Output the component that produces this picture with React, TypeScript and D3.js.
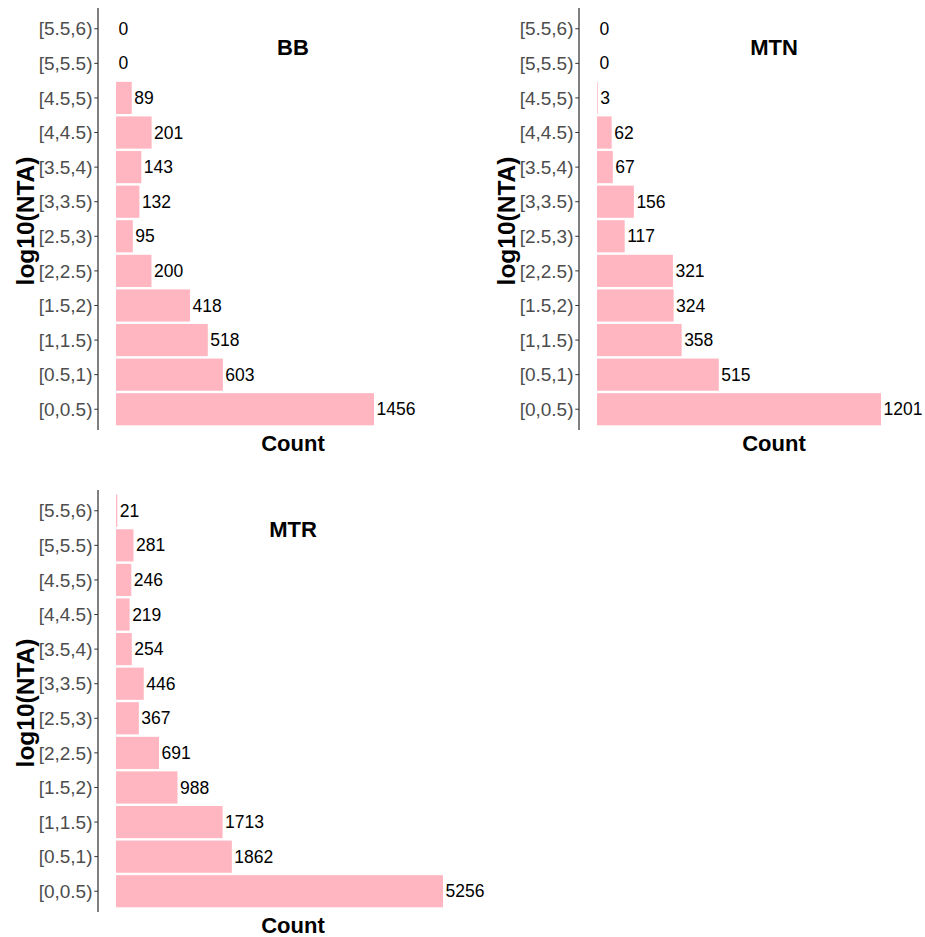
import React from 'react';
import * as d3 from 'd3';

// bins of log10(NTA), listed top to bottom as drawn
const bins = ['[5.5,6)', '[5,5.5)', '[4.5,5)', '[4,4.5)', '[3.5,4)', '[3,3.5)', '[2.5,3)', '[2,2.5)', '[1.5,2)', '[1,1.5)', '[0.5,1)', '[0,0.5)'];

const bbCounts = [0, 0, 89, 201, 143, 132, 95, 200, 418, 518, 603, 1456];
const mtnCounts = [0, 0, 3, 62, 67, 156, 117, 321, 324, 358, 515, 1201];
const mtrCounts = [21, 281, 246, 219, 254, 446, 367, 691, 988, 1713, 1862, 5256];

const FONT = '"Liberation Sans", Arial, Helvetica, sans-serif';
const BAR_FILL = '#FFB6C1';

interface PanelProps {
  title: string;
  counts: number[];
  axisX: number;      // y-axis line position
  x0: number;         // where zero count sits
  xMax: number;       // where the max count ends
  top: number;
  bottom: number;
  yTitleX: number;
  titleX: number;
}

const Panel: React.FC<PanelProps> = ({ title, counts, axisX, x0, xMax, top, bottom, yTitleX, titleX }) => {
  const y = d3.scaleBand<string>()
    .domain(bins)
    .range([top, bottom])
    .paddingInner(0.07)
    .paddingOuter(0.135);

  const x = d3.scaleLinear()
    .domain([0, d3.max(counts) as number])
    .range([x0, xMax]);

  const bw = y.bandwidth();
  const midY = (top + bottom) / 2;

  return (
    <g>
      {counts.map((c, i) => {
        const yy = y(bins[i]) as number;
        return (
          <g key={bins[i]}>
            <rect x={x(0)} y={yy} width={x(c) - x(0)} height={bw} fill={BAR_FILL} />
            <text
              x={x(c) + 2.5}
              y={yy + bw / 2}
              dy="0.35em"
              fontSize={17.5}
              fill="#000"
            >
              {c}
            </text>
          </g>
        );
      })}

      {/* y axis */}
      <line x1={axisX} x2={axisX} y1={top} y2={bottom} stroke="#000" strokeWidth={1} />
      {bins.map((b) => {
        const cy = (y(b) as number) + bw / 2;
        return (
          <g key={'t' + b}>
            <line x1={axisX - 3.7} x2={axisX} y1={cy} y2={cy} stroke="#333" strokeWidth={1} />
            <text x={axisX - 5.5} y={cy} dy="0.35em" textAnchor="end" fontSize={19} fill="#4D4D4D">
              {b}
            </text>
          </g>
        );
      })}

      <text x={titleX} y={top + 47} textAnchor="middle" fontSize={22} fontWeight="bold">{title}</text>
      <text x={titleX} y={bottom + 21} textAnchor="middle" fontSize={22} fontWeight="bold">Count</text>
      <text
        transform={`translate(${yTitleX},${midY + 2}) rotate(-90)`}
        textAnchor="middle"
        dy="0.35em"
        fontSize={24.5}
        fontWeight="bold"
      >
        log10(NTA)
      </text>
    </g>
  );
};

export default function App() {
  return (
    <svg
      width={925}
      height={937}
      style={{ position: 'absolute', left: 0, top: 0, background: '#fff' }}
      fontFamily={FONT}
    >
      <Panel title="BB" counts={bbCounts} axisX={98} x0={116} xMax={374} top={8} bottom={430} yTitleX={25} titleX={293} />
      <Panel title="MTN" counts={mtnCounts} axisX={579} x0={597} xMax={881} top={8} bottom={430} yTitleX={506} titleX={774} />
      <Panel title="MTR" counts={mtrCounts} axisX={98} x0={116} xMax={443} top={490} bottom={912} yTitleX={25} titleX={293} />
    </svg>
  );
}
